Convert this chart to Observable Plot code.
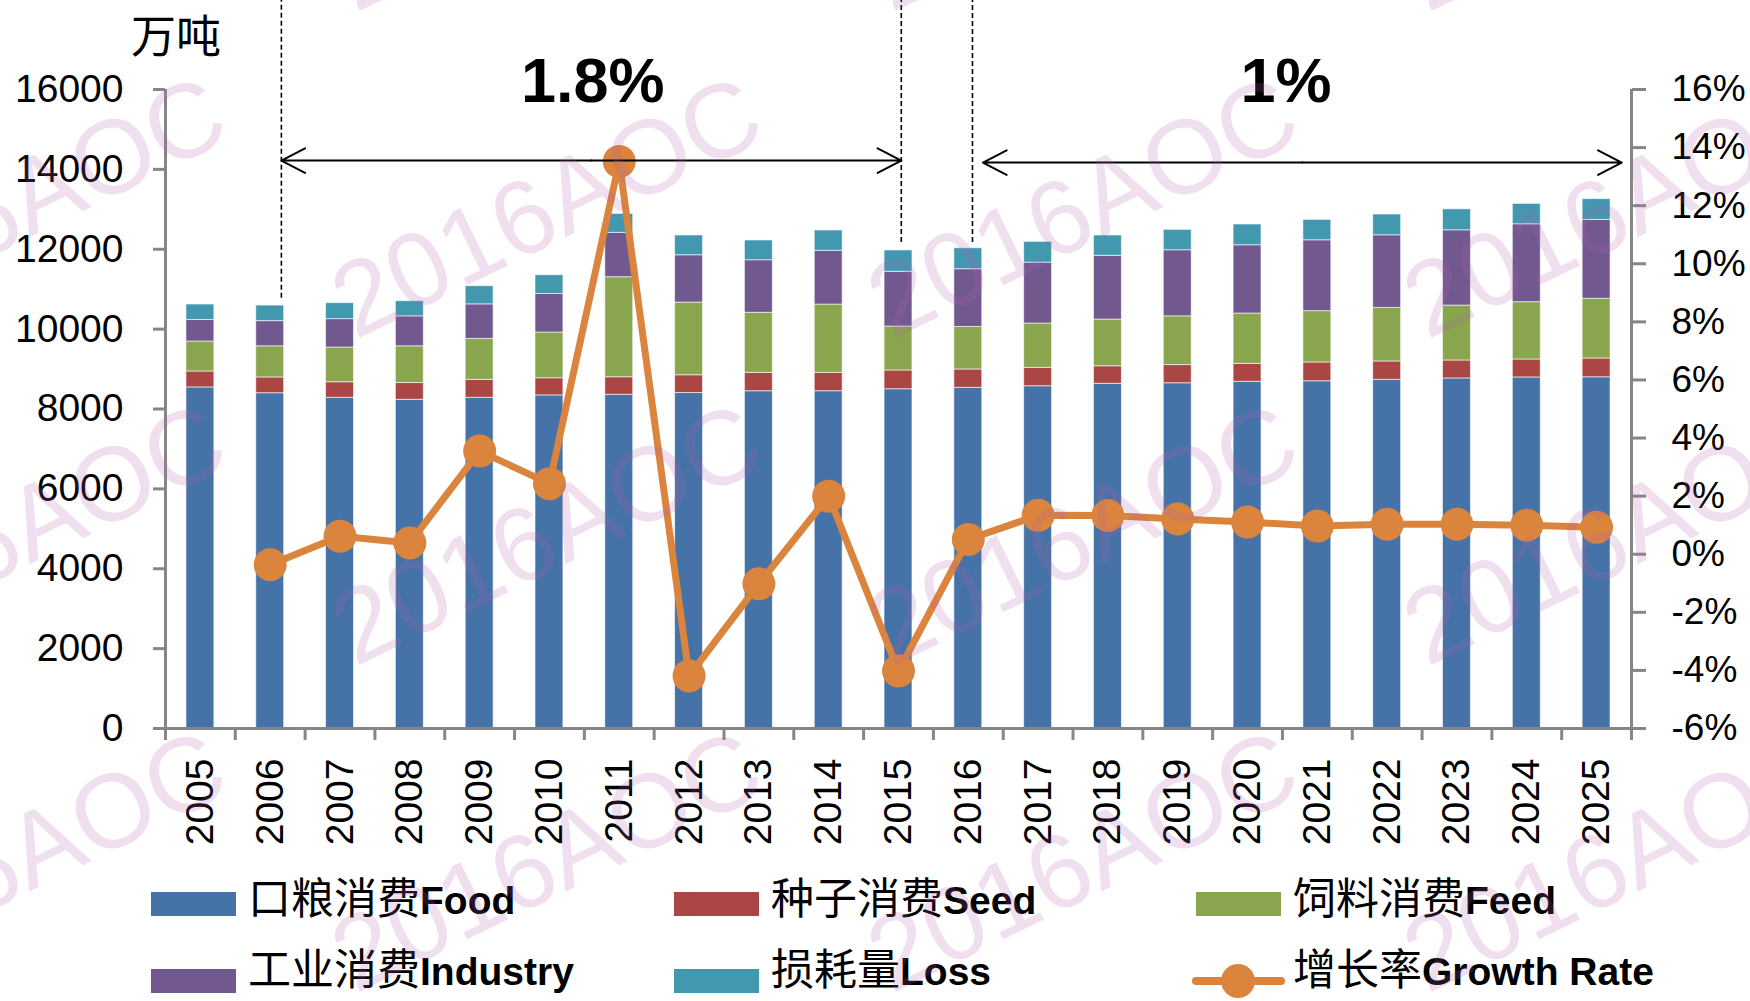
<!DOCTYPE html>
<html>
<head>
<meta charset="utf-8">
<script src="https://cdn.jsdelivr.net/npm/d3@7"></script>
<script src="https://cdn.jsdelivr.net/npm/@observablehq/plot@0.6"></script>
<style>
  body { margin: 0; background: white; }
  #wrap { position: relative; width: 1750px; height: 1001px; overflow: hidden; background: white; }
  .abs { position: absolute; white-space: nowrap; }
  .cjk { font-family: 'Noto Sans CJK SC', sans-serif; font-size: 43px; font-weight: normal; }
  .lat { font-family: 'Liberation Sans', sans-serif; font-size: 39px; font-weight: bold; }
</style>
</head>
<body>
<div id="wrap"></div>
<script>
// ---------- data ----------
const years = [2005, 2006, 2007, 2008, 2009, 2010, 2011, 2012, 2013, 2014, 2015, 2016, 2017, 2018, 2019, 2020, 2021, 2022, 2023, 2024, 2025];
const food     = [8540, 8395, 8280, 8230, 8280, 8340, 8355, 8400, 8445, 8445, 8495, 8530, 8570, 8630, 8645, 8680, 8695, 8730, 8765, 8790, 8795];
const seed     = [400, 395, 390, 420, 450, 430, 440, 445, 460, 460, 470, 460, 460, 440, 455, 450, 470, 460, 450, 450, 470];
const feed     = [750, 780, 870, 920, 1025, 1145, 2505, 1820, 1505, 1710, 1100, 1065, 1110, 1170, 1220, 1260, 1285, 1340, 1375, 1435, 1495];
const industry = [540, 630, 710, 750, 865, 965, 1110, 1185, 1315, 1345, 1370, 1445, 1525, 1595, 1655, 1710, 1775, 1820, 1885, 1950, 1975];
const loss     = [386, 390, 400, 380, 455, 470, 475, 495, 495, 510, 535, 525, 520, 510, 510, 520, 510, 520, 525, 510, 520];
const growth   = [null, -0.36, 0.62, 0.39, 3.55, 2.43, 13.52, -4.19, -1.02, 2.0, -4.02, 0.51, 1.34, 1.33, 1.21, 1.11, 0.97, 1.03, 1.03, 1.0, 0.93];

const seriesNames = ["口粮消费", "种子消费", "饲料消费", "工业消费", "损耗量", "增长率"];
const seriesEn    = ["Food", "Seed", "Feed", "Industry", "Loss", "Growth Rate"];
const colors      = ["#4572A7", "#AA4643", "#89A54E", "#71588F", "#4198AF", "#DB843D"];

const leftTicks  = [0, 2000, 4000, 6000, 8000, 10000, 12000, 14000, 16000];
const rightTicks = [-6, -4, -2, 0, 2, 4, 6, 8, 10, 12, 14, 16];
const unitLabel = "万吨";

// annotation periods (average growth)
const periodLabels = ["1.8%", "1%"];
const periodLabelX = [2010.62, 2020.55];
const periodLabelY = [16180, 16180];
const arrowStart   = [2006.16, 2016.21];
const arrowEnd     = [2015.04, 2025.36];
const arrowY       = [14220, 14170];
const dividerX     = [2006.16, 2015.04, 2016.06];
const dividerFrom  = [10770, 12170, 12170];

// ---------- helpers ----------
const valuesBySeries = [food, seed, feed, industry, loss];
const toLeft = p => (p - rightTicks[0]) / (rightTicks[rightTicks.length - 1] - rightTicks[0]) * leftTicks[leftTicks.length - 1];
const fromLeft = v => v / leftTicks[leftTicks.length - 1] * (rightTicks[rightTicks.length - 1] - rightTicks[0]) + rightTicks[0];

const segments = [];
years.forEach((year, i) => {
  let base = 0;
  valuesBySeries.forEach((vals, k) => {
    segments.push({year, k, y1: base, y2: base + vals[i]});
    base += vals[i];
  });
});
const growthRows = years.map((year, i) => ({year, g: growth[i]})).filter(d => d.g != null);
const boundaries = [years[0] - 0.5, ...years.map(y => y + 0.5)];
const arrows = [];
periodLabels.forEach((l, i) => {
  const mid = (arrowStart[i] + arrowEnd[i]) / 2;
  arrows.push({x1: mid, x2: arrowStart[i], y: arrowY[i]});
  arrows.push({x1: mid, x2: arrowEnd[i], y: arrowY[i]});
});
const dividers = dividerX.map((x, i) => ({x, y1: dividerFrom[i]}));
const periods = periodLabels.map((label, i) => ({label, x: periodLabelX[i], y: periodLabelY[i]}));

const barHalf = 0.2;
const axisGrey = "#868686";

const chart = Plot.plot({
  width: 1750,
  height: 1001,
  marginLeft: 165,
  marginRight: 119,
  marginTop: 89,
  marginBottom: 273,
  x: {type: "linear", domain: [years[0] - 0.5, years[years.length - 1] + 0.5]},
  y: {domain: [leftTicks[0], leftTicks[leftTicks.length - 1]]},
  style: {fontFamily: "'Liberation Sans', 'Noto Sans CJK SC', sans-serif", fontSize: "39px", color: "black", background: "transparent", overflow: "visible"},
  marks: [
    ...valuesBySeries.map((_, k) => Plot.rect(segments.filter(d => d.k === k), {
      x1: d => d.year - barHalf, x2: d => d.year + barHalf, y1: "y1", y2: "y2",
      fill: colors[k], stroke: "white", strokeOpacity: 0.6, strokeWidth: 1
    })),
    // axes
    Plot.ruleY([0], {stroke: axisGrey, strokeWidth: 3}),
    Plot.ruleX([years[0] - 0.5, years[years.length - 1] + 0.5], {y1: leftTicks[0], y2: leftTicks[leftTicks.length - 1], stroke: axisGrey, strokeWidth: 3}),
    Plot.axisY({anchor: "left", ticks: leftTicks, tickSize: 12, tickPadding: 30, stroke: axisGrey, strokeWidth: 3, fill: "black", fontSize: 39, label: null, tickFormat: d => `${d}`}),
    Plot.axisY({anchor: "right", ticks: rightTicks.map(toLeft), tickSize: 14, tickPadding: 26, stroke: axisGrey, strokeWidth: 3, fill: "black", fontSize: 37, label: null,
      tickFormat: v => `${Math.round(fromLeft(v))}%`}),
    Plot.axisX({anchor: "bottom", ticks: boundaries, tickSize: 12, stroke: axisGrey, strokeWidth: 3, tickFormat: () => "", label: null}),
    Plot.axisX({anchor: "bottom", ticks: years, tickSize: 0, tickPadding: 30, tickRotate: -90, fill: "black", fontSize: 39, label: null, tickFormat: d => `${d}`}),
    // growth line
    Plot.line(growthRows, {x: "year", y: d => toLeft(d.g), stroke: colors[5], strokeWidth: 7, strokeLinejoin: "round"}),
    Plot.dot(growthRows, {x: "year", y: d => toLeft(d.g), r: 16.5, fill: colors[5], stroke: "none"}),
    // annotations
    Plot.ruleX(dividers, {x: "x", y1: "y1", y2: 18400, stroke: "black", strokeWidth: 1.6, strokeDasharray: "5,3"}),
    Plot.arrow(arrows, {x1: "x1", x2: "x2", y1: "y", y2: "y", stroke: "black", strokeWidth: 2, headLength: 20, headAngle: 55}),
    Plot.text(periods, {x: "x", y: "y", text: "label", fontSize: 63, fontWeight: "bold", fill: "black"})
  ]
});
const wrap = document.getElementById("wrap");
chart.style.position = "absolute";
chart.style.left = "0px";
chart.style.top = "0px";
wrap.appendChild(chart);

// unit label
const unit = document.createElement("div");
unit.className = "abs";
unit.style.cssText = "left:131px;top:1px;font-family:'Noto Sans CJK SC',sans-serif;font-size:45px;line-height:66px;color:black;";
unit.textContent = unitLabel;
wrap.appendChild(unit);

// legend
const legendCols = [151, 674, 1196];
const legendRows = [904, 981];
const legendTextShift = [-37, -43];
seriesNames.forEach((name, i) => {
  const col = i % 3, row = Math.floor(i / 3);
  const sx = legendCols[col], cy = legendRows[row];
  if (i < 5) {
    const sw = document.createElement("div");
    sw.className = "abs";
    sw.style.cssText = `left:${sx}px;top:${cy - 12}px;width:85px;height:24px;background:${colors[i]};`;
    wrap.appendChild(sw);
  } else {
    const ln = document.createElement("div");
    ln.className = "abs";
    ln.style.cssText = `left:${sx - 4}px;top:${cy - 4}px;width:93px;height:8px;background:${colors[i]};border-radius:4px;`;
    wrap.appendChild(ln);
    const dt = document.createElement("div");
    dt.className = "abs";
    dt.style.cssText = `left:${sx + 42 - 17}px;top:${cy - 17}px;width:34px;height:34px;background:${colors[i]};border-radius:50%;`;
    wrap.appendChild(dt);
  }
  const tx = document.createElement("div");
  tx.className = "abs lat";
  tx.style.cssText += `left:${sx + 97}px;top:${cy + legendTextShift[row]}px;height:56px;line-height:56px;color:black;`;
  tx.innerHTML = `<span class="cjk">${name}</span><span class="lat">${seriesEn[i]}</span>`;
  wrap.appendChild(tx);
});

// watermark overlay
const wm = d3.select(wrap).append("svg")
  .attr("width", 1750).attr("height", 1001)
  .style("position", "absolute").style("left", "0px").style("top", "0px")
  .style("pointer-events", "none");
[-181, 355, 891, 1427].forEach(x => {
  [13, 340, 667, 994].forEach(y => {
    wm.append("text")
      .attr("x", x).attr("y", y)
      .attr("transform", `rotate(-26 ${x} ${y})`)
      .attr("font-family", "'Liberation Sans', sans-serif")
      .attr("font-size", 105)
      .attr("fill", "rgb(176,96,176)")
      .attr("fill-opacity", 0.2)
      .text("2016AOC");
  });
});
</script>
</body>
</html>
